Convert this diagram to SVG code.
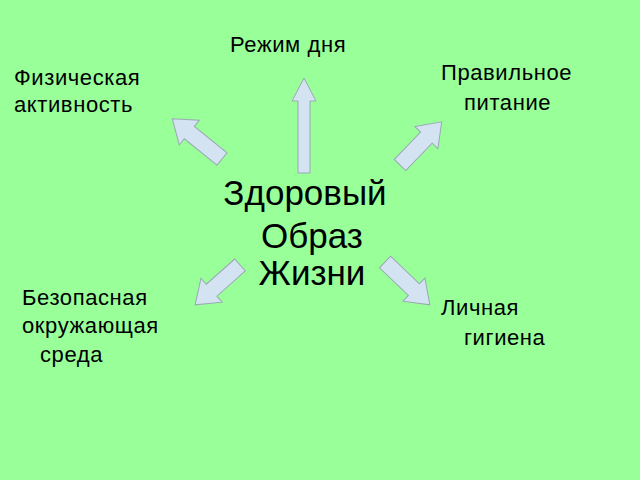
<svg xmlns="http://www.w3.org/2000/svg" width="640" height="480" viewBox="0 0 640 480">
<defs>
<style>
.t{font-family:"Liberation Sans",Arial,sans-serif;font-size:22px;letter-spacing:0.6px;fill:#000}
.c{font-family:"Liberation Sans",Arial,sans-serif;font-size:35px;fill:#000;text-anchor:middle}
.a{fill:#d3e3f1;stroke:#9aa8b4;stroke-width:1}
</style>
</defs>
<rect width="640" height="480" fill="#99ff99"/>
<g id="center"><text class="c" x="305" y="205">Здоровый</text><text class="c" x="312" y="248">Образ</text><text class="c" x="312" y="285">Жизни</text></g>
<g id="rezhim"><text class="t" x="230" y="52">Режим дня</text></g>
<g id="fiz"><text class="t" x="14" y="85">Физическая</text><text class="t" x="14" y="112">активность</text></g>
<g id="pit"><text class="t" x="441" y="80">Правильное</text><text class="t" x="464" y="110">питание</text></g>
<g id="bez"><text class="t" x="22" y="305">Безопасная</text><text class="t" x="22" y="333">окружающая</text><text class="t" x="40" y="362">среда</text></g>
<g id="gig"><text class="t" x="441" y="315">Личная</text><text class="t" x="464" y="345">гигиена</text></g>
<g id="connectors">
<path class="a" d="M298,173 L298,101 L292,101 L304,78 L316,101 L310,101 L310,173 Z"/>
<path class="a" transform="translate(222,159) rotate(-51)" d="M-8,0 L-8,-42 L-16,-42 L0,-64 L16,-42 L8,-42 L8,0 Z"/>
<path class="a" transform="translate(400,165) rotate(44)" d="M-8,0 L-8,-38 L-16,-38 L0,-60 L16,-38 L8,-38 L8,0 Z"/>
<path class="a" transform="translate(240,265) rotate(-131.6)" d="M-8,0 L-8,-38 L-16,-38 L0,-60 L16,-38 L8,-38 L8,0 Z"/>
<path class="a" transform="translate(385,262) rotate(133.7)" d="M-8,0 L-8,-40 L-16,-40 L0,-62 L16,-40 L8,-40 L8,0 Z"/>
</g>
</svg>
